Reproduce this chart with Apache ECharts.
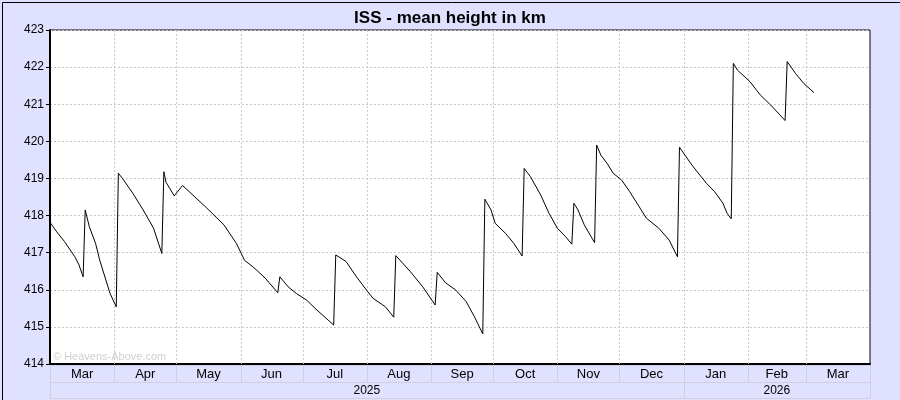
<!DOCTYPE html>
<html>
<head>
<meta charset="utf-8">
<script src="https://cdn.jsdelivr.net/npm/echarts@6/dist/echarts.min.js"></script>
<style>
html,body{margin:0;padding:0;background:#e0e0ff;}
#c{width:900px;height:400px;}
</style>
</head>
<body>
<div id="c"></div>
<script>
const dates = [
'2025-03-01','2025-03-04','2025-03-08','2025-03-13','2025-03-15','2025-03-17','2025-03-18','2025-03-20','2025-03-23','2025-03-25','2025-03-28','2025-03-30','2025-04-02',
'2025-04-03','2025-04-05','2025-04-10','2025-04-15','2025-04-20','2025-04-24',
'2025-04-25','2025-04-26','2025-04-30','2025-05-04','2025-05-15','2025-05-24','2025-05-30','2025-06-03','2025-06-07','2025-06-13','2025-06-19',
'2025-06-20','2025-06-24','2025-06-28','2025-07-03','2025-07-07','2025-07-16',
'2025-07-17','2025-07-22','2025-07-27','2025-08-01','2025-08-04','2025-08-10','2025-08-14',
'2025-08-15','2025-08-22','2025-08-28','2025-09-03',
'2025-09-04','2025-09-08','2025-09-13','2025-09-18','2025-09-22','2025-09-26',
'2025-09-27','2025-09-30','2025-10-02','2025-10-07','2025-10-11','2025-10-15',
'2025-10-16','2025-10-19','2025-10-24','2025-10-28','2025-11-01','2025-11-05','2025-11-08',
'2025-11-09','2025-11-11','2025-11-14','2025-11-19',
'2025-11-20','2025-11-22','2025-11-25','2025-11-28','2025-12-02','2025-12-06','2025-12-14','2025-12-20','2025-12-25','2025-12-29',
'2025-12-30','2026-01-05','2026-01-12','2026-01-16','2026-01-20','2026-01-22','2026-01-24',
'2026-01-25','2026-01-27','2026-02-02','2026-02-07','2026-02-12','2026-02-19',
'2026-02-20','2026-02-24','2026-02-28','2026-03-05'
];
const heights = [
417.82,417.58,417.30,416.89,416.67,416.35,418.15,417.70,417.25,416.80,416.26,415.90,415.54,
419.14,419.00,418.60,418.15,417.66,416.98,
419.18,418.90,418.53,418.81,418.24,417.75,417.25,416.79,416.62,416.31,415.92,
416.35,416.08,415.90,415.72,415.50,415.05,
416.94,416.76,416.35,415.98,415.77,415.54,415.26,
416.92,416.49,416.08,415.59,
416.47,416.19,415.99,415.68,415.27,414.81,
418.44,418.15,417.79,417.52,417.25,416.91,
419.27,419.05,418.55,418.06,417.66,417.43,417.23,
418.33,418.15,417.75,417.27,
419.90,419.63,419.41,419.14,418.96,418.64,417.93,417.66,417.34,416.89,
419.84,419.36,418.87,418.64,418.33,418.06,417.91,
422.10,421.92,421.61,421.25,420.98,420.56,
422.15,421.83,421.56,421.31
];
const monthStarts = ['2025-03-01','2025-04-01','2025-05-01','2025-06-01','2025-07-01','2025-08-01','2025-09-01','2025-10-01','2025-11-01','2025-12-01','2026-01-01','2026-02-01','2026-03-01','2026-04-01'];
const monthLabels = ['Mar','Apr','May','Jun','Jul','Aug','Sep','Oct','Nov','Dec','Jan','Feb','Mar'];
const yearStarts = ['2025-03-01','2026-01-01','2026-04-01'];
const yearLabels = ['2025','2026'];
const yTicks = [414,415,416,417,418,419,420,421,422,423];
const titleText = 'ISS - mean height in km';
const watermark = '\u00A9 Heavens-Above.com';

const FONT = '"Liberation Sans", Arial, sans-serif';
const chart = echarts.init(document.getElementById('c'), null, {renderer:'canvas'});

const monthData = monthLabels.map((l,i)=>[monthStarts[i], monthStarts[i+1]]);
const yearData = yearLabels.map((l,i)=>[yearStarts[i], yearStarts[i+1]]);

function bandRenderer(labels, rowTop, rowH, gridLines, fontSize){
  return function(params, api){
    const s = api.coord([api.value(0), yTicks[0]]);
    const e = api.coord([api.value(1), yTicks[0]]);
    const top = api.coord([api.value(0), yTicks[yTicks.length-1]]);
    const children = [];
    if (gridLines && params.dataIndex > 0) {
      children.push({type:'line', shape:{x1:Math.round(s[0])+0.5,y1:top[1],x2:Math.round(s[0])+0.5,y2:s[1]},
        style:{stroke:'#c8c8c8', lineWidth:1, lineDash:[2,2]}, z2:0});
    }
    children.push({type:'rect', shape:{x:Math.round(s[0])+0.5, y:s[1]+rowTop+0.5, width:Math.round(e[0])-Math.round(s[0]), height:rowH},
      style:{fill:'#e0e0ff', stroke:'#cfcfe0', lineWidth:1}});
    children.push({type:'text', style:{text:labels[params.dataIndex], x:(s[0]+e[0])/2, y:s[1]+rowTop+rowH/2+1,
      align:'center', verticalAlign:'middle', font:fontSize+'px '+FONT, fill:'#000'}});
    return {type:'group', children};
  };
}

const option = {
  backgroundColor:'#e0e0ff',
  animation:false,
  title:{text:titleText, left:'center', top:5, textStyle:{fontSize:17, fontWeight:'bold', color:'#000', fontFamily:FONT}},
  grid:{left:50, right:30, top:30, bottom:36, show:true, backgroundColor:'#fff', borderColor:'#000', borderWidth:1},
  xAxis:{type:'time', min:monthStarts[0], max:monthStarts[monthStarts.length-1],
    axisLabel:{show:false}, axisTick:{show:false}, axisLine:{show:true, onZero:false, lineStyle:{color:'#000', width:2}}, splitLine:{show:false}},
  yAxis:{type:'value', min:yTicks[0], max:yTicks[yTicks.length-1], interval:1,
    axisLine:{show:true, lineStyle:{color:'#000', width:2}},
    axisTick:{show:true, length:4, lineStyle:{color:'#000'}},
    axisLabel:{color:'#000', fontSize:12, fontFamily:FONT, margin:6},
    splitLine:{show:true, lineStyle:{color:'#c8c8c8', type:[2,2]}}},
  graphic:[
    {type:'rect', left:0, top:0, shape:{x:0.5,y:0.5,width:899,height:399}, style:{fill:null, stroke:'#000', lineWidth:1}, z:100, silent:true},
    {type:'text', left:53, top:351, style:{text:watermark, font:'11px '+FONT, fill:'#d0d0d0'}, z:5, silent:true}
  ],
  series:[
    {type:'custom', data:monthData, encode:{x:[0,1]}, clip:false, z:1, silent:true,
      renderItem:bandRenderer(monthLabels, 1, 17, true, 13)},
    {type:'custom', data:yearData, encode:{x:[0,1]}, clip:false, z:1, silent:true,
      renderItem:bandRenderer(yearLabels, 18, 16, false, 12)},
    {type:'line', data:dates.map((d,i)=>[d, heights[i]]), symbol:'none', z:3,
      lineStyle:{color:'#000', width:1}}
  ]
};
chart.setOption(option);
</script>
</body>
</html>
